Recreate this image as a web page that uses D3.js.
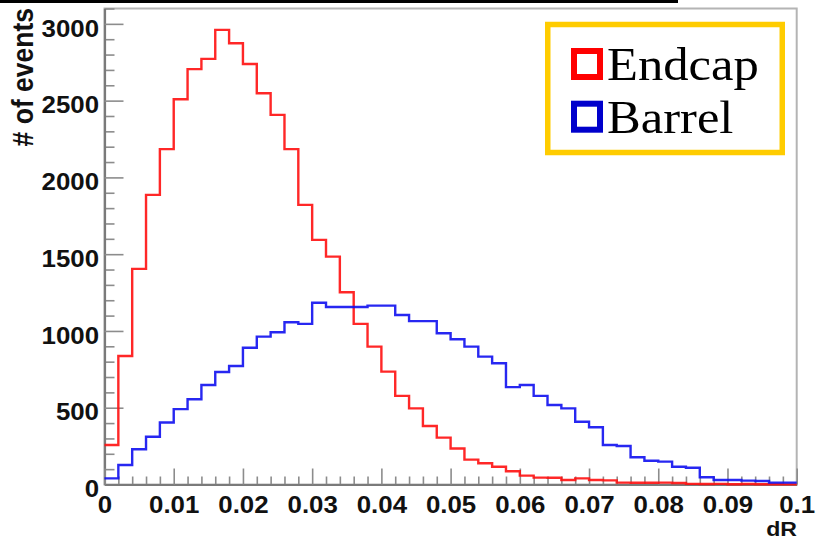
<!DOCTYPE html>
<html>
<head>
<meta charset="utf-8">
<script src="https://cdn.jsdelivr.net/npm/d3@7"></script>
<style>
	html, body { margin: 0; padding: 0; background: #fff; }
	svg { display: block; }
</style>
</head>
<body>
<div id="viz-holder"></div>
<script>
// histogram: 50 bins of dR from 0 to 0.1
let xMin = 0, xMax = 0.1, nBins = 50;

let endcap = [257, 837, 1404, 1886, 2184, 2509, 2705, 2772, 2961, 2874,
	2739, 2548, 2407, 2184, 1821, 1593, 1484, 1252, 1046, 898,
	735, 577, 496, 381, 305, 234, 162, 138, 116, 86,
	58, 45, 44, 29, 40, 29, 27, 12, 11, 11,
	12, 10, 4, 3, 4, 2, 3, 2, 2, 1];

let barrel = [40, 127, 230, 311, 404, 491, 555, 648, 733, 772,
	891, 963, 992, 1057, 1046, 1184, 1156, 1156, 1156, 1165,
	1165, 1104, 1064, 1064, 985, 946, 898, 833, 790, 634,
	648, 577, 518, 496, 409, 373, 257, 251, 177, 155,
	149, 116, 109, 47, 29, 29, 25, 23, 12, 12];

let yTicks = [0, 500, 1000, 1500, 2000, 2500, 3000];
let yTickLabels = ["0", "500", "1000", "1500", "2000", "2500", "3000"];
let xTicks = [0, 0.01, 0.02, 0.03, 0.04, 0.05, 0.06, 0.07, 0.08, 0.09, 0.1];
let xTickLabels = ["0", "0.01", "0.02", "0.03", "0.04", "0.05", "0.06", "0.07", "0.08", "0.09", "0.1"];
let legendNames = ["Endcap", "Barrel"];
let colors = ["#ff1010", "#1010f0"];

let width = 817, height = 543;
let stretch = "scale(1.1,1)"; // the picture is a bit wider than tall

let svg = d3.select('#viz-holder')
	.append('svg')
	.attr('width', width)
	.attr('height', height);

let x = d3.scaleLinear().domain([xMin, xMax]).range([104.5, 796.7]);
let y = d3.scaleLinear().domain([0, 3100]).range([484.5, 8.5]);
let binW = (xMax - xMin) / nBins;

// black strip along the top
svg.append('rect')
	.attr('x', 0).attr('y', 0)
	.attr('width', 678).attr('height', 3)
	.attr('fill', '#000');

// frame
svg.append('rect')
	.attr('x', x(xMin)).attr('y', y(3100))
	.attr('width', x(xMax) - x(xMin))
	.attr('height', y(0) - y(3100))
	.attr('fill', 'none')
	.attr('stroke', '#b4b4b4')
	.attr('stroke-width', 2);

// minor ticks
let yMinor = d3.range(0, 3101, 100).filter(d => d % 500 != 0);
let xMinor = d3.range(0, nBins + 1).map(i => i * binW).filter((d, i) => i % 5 != 0);

svg.append('g')
	.attr('class', 'minor')
	.attr('transform', 'translate(' + x(xMin) + ',0)')
	.call(d3.axisLeft(y).tickValues(yMinor).tickSize(-10).tickFormat(''));

svg.append('g')
	.attr('class', 'minor')
	.attr('transform', 'translate(0,' + y(0) + ')')
	.call(d3.axisBottom(x).tickValues(xMinor).tickSize(-8).tickFormat(''));

// major axes
let yAxis = svg.append('g')
	.attr('class', 'axis')
	.attr('transform', 'translate(' + x(xMin) + ',0)')
	.call(d3.axisLeft(y).tickValues(yTicks).tickSizeInner(-19).tickSizeOuter(0).tickPadding(5)
		.tickFormat((d, i) => yTickLabels[i]));

let xAxis = svg.append('g')
	.attr('class', 'axis')
	.attr('transform', 'translate(0,' + y(0) + ')')
	.call(d3.axisBottom(x).tickValues(xTicks).tickSizeInner(-16).tickSizeOuter(0).tickPadding(12)
		.tickFormat((d, i) => xTickLabels[i]));

svg.selectAll('.minor path').remove();
svg.selectAll('.minor line, .axis line')
	.attr('stroke', '#8c8c8c')
	.attr('stroke-width', 1.6);
svg.selectAll('.axis path')
	.attr('stroke', '#7a7a7a')
	.attr('stroke-width', 2.2);

svg.selectAll('.axis text')
	.attr('fill', '#111')
	.style('font-family', '"Liberation Sans", Arial, sans-serif')
	.style('font-weight', 'bold')
	.style('font-size', '23.5px')
	.attr('transform', stretch);

yAxis.selectAll('text').attr('dy', '0.52em');

// histograms
let step = d3.line()
	.x(d => x(d[0]))
	.y(d => y(d[1]))
	.curve(d3.curveStepAfter);

[endcap, barrel].forEach(function (series, k) {
	let pts = series.map((v, i) => [xMin + i * binW, v]);
	pts.push([xMax, series[series.length - 1]]);
	svg.append('path')
		.datum(pts)
		.attr('d', step)
		.attr('fill', 'none')
		.attr('stroke', colors[k])
		.attr('stroke-width', 2.4)
		.attr('stroke-opacity', 0.9);
});

// axis titles
svg.append('text')
	.attr('transform', 'translate(33,8) ' + stretch + ' rotate(-90)')
	.attr('text-anchor', 'end')
	.style('font-family', '"Liberation Sans", Arial, sans-serif')
	.style('font-weight', 'bold')
	.style('font-size', '26.5px')
	.attr('fill', '#111')
	.text('# of events');

svg.append('text')
	.attr('transform', 'translate(797,536) ' + stretch)
	.attr('text-anchor', 'end')
	.style('font-family', '"Liberation Sans", Arial, sans-serif')
	.style('font-weight', 'bold')
	.style('font-size', '21px')
	.attr('fill', '#111')
	.text('dR');

// legend
svg.append('rect')
	.attr('x', 547.75).attr('y', 24.5)
	.attr('width', 234.5).attr('height', 128)
	.attr('fill', '#fff')
	.attr('stroke', '#ffcc00')
	.attr('stroke-width', 5.5);

let legend = svg.selectAll('.legend')
	.data(legendNames)
	.enter()
	.append('g')
	.attr('class', 'legend')
	.attr('transform', (d, i) => 'translate(0,' + (i * 52.7) + ')');

legend.append('rect')
	.attr('x', 574).attr('y', 51)
	.attr('width', 26).attr('height', 26)
	.attr('fill', '#fff')
	.attr('stroke', (d, i) => i == 0 ? '#ff0000' : '#0000cc')
	.attr('stroke-width', 6);

legend.append('text')
	.attr('transform', 'translate(607,80) ' + stretch)
	.style('font-family', '"Liberation Serif", "Times New Roman", serif')
	.style('font-size', '46px')
	.attr('fill', '#000')
	.text(d => d);
</script>
</body>
</html>
